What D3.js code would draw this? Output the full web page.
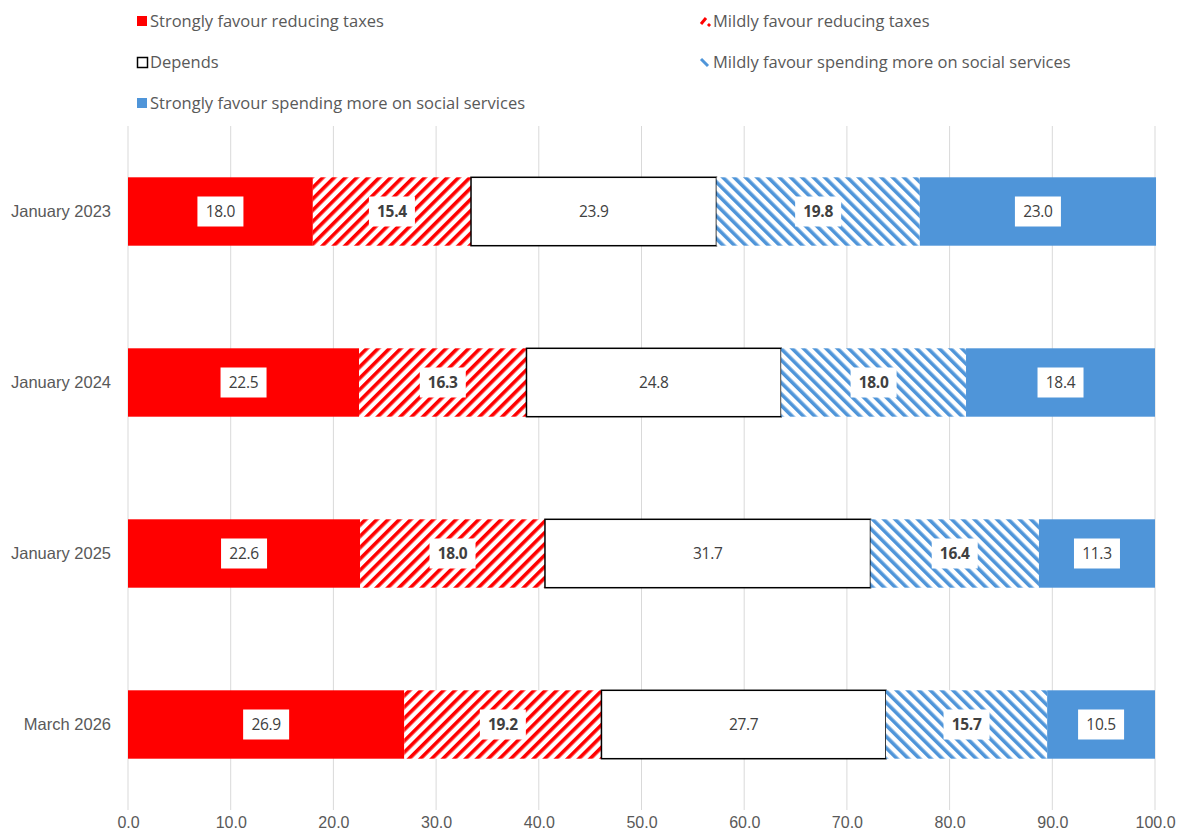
<!DOCTYPE html>
<html>
<head>
<meta charset="utf-8">
<script src="https://cdn.jsdelivr.net/npm/d3@7"></script>
<style>
  html, body { margin: 0; padding: 0; background: #fff; }
  svg { display: block; font-family: "Open Sans", "Noto Sans", sans-serif; }
</style>
</head>
<body>
<svg id="chart" width="1180" height="839"></svg>
<script>
// Survey waves (top to bottom)
const categories = ["January 2023", "January 2024", "January 2025", "March 2026"];

// Series, left to right along the stacked bar
const seriesNames = [
  "Strongly favour reducing taxes",
  "Mildly favour reducing taxes",
  "Depends",
  "Mildly favour spending more on social services",
  "Strongly favour spending more on social services"
];
const stronglyTaxes   = [18.0, 22.5, 22.6, 26.9];
const mildlyTaxes     = [15.4, 16.3, 18.0, 19.2];
const depends         = [23.9, 24.8, 31.7, 27.7];
const mildlySpending  = [19.8, 18.0, 16.4, 15.7];
const stronglySpending= [23.0, 18.4, 11.3, 10.5];

const xTicks = [0, 10, 20, 30, 40, 50, 60, 70, 80, 90, 100];

const seriesValues = [stronglyTaxes, mildlyTaxes, depends, mildlySpending, stronglySpending];
const RED = "#ff0000", BLUE = "#4f95d9";

const svg = d3.select("#chart");
const defs = svg.append("defs");

// Diagonal hatch patterns
function hatch(id, color, dir) {
  const p = defs.append("pattern")
    .attr("id", id).attr("patternUnits", "userSpaceOnUse")
    .attr("width", 8).attr("height", 8)
    .attr("patternTransform", `rotate(${dir})`);
  p.append("rect").attr("width", 8).attr("height", 8).attr("fill", "#fff");
  p.append("rect").attr("x", 0).attr("width", 3.6).attr("height", 8).attr("fill", color);
}
hatch("hatchRed", RED, 45);
hatch("hatchBlue", BLUE, -45);

const styles = [
  { fill: RED, stroke: "none", bold: false, legend: "solid" },
  { fill: "url(#hatchRed)", stroke: "none", bold: true, legend: "hatch" },
  { fill: "#fff", stroke: "#000", bold: false, legend: "box" },
  { fill: "url(#hatchBlue)", stroke: "none", bold: true, legend: "hatch" },
  { fill: BLUE, stroke: "none", bold: false, legend: "solid" }
];

const margin = { left: 128, right: 25, top: 126, bottom: 29 };
const W = 1180, H = 839;

const x = d3.scaleLinear().domain([0, 100]).range([margin.left, W - margin.right]);
const y = d3.scaleBand().domain(categories).range([margin.top, H - margin.bottom]).paddingInner(0.6).paddingOuter(0.3);

// Vertical gridlines
svg.append("g")
  .selectAll("line").data(xTicks).join("line")
  .attr("x1", d => x(d)).attr("x2", d => x(d))
  .attr("y1", 126).attr("y2", 810)
  .attr("stroke", "#d9d9d9").attr("stroke-width", 1);

// x-axis labels
const xAxis = d3.axisBottom(x).tickValues(xTicks).tickFormat(d3.format(".1f")).tickSize(0).tickPadding(0);
const gx = svg.append("g").attr("transform", `translate(0,${H - 22})`).call(xAxis);
gx.select(".domain").remove();
gx.selectAll("text").attr("fill", "#595959").attr("font-size", 16);

// y-axis labels
const yAxis = d3.axisLeft(y).tickSize(0).tickPadding(0);
const gy = svg.append("g").attr("transform", `translate(${margin.left - 17},0)`).call(yAxis);
gy.select(".domain").remove();
gy.selectAll("text").attr("fill", "#595959").attr("font-size", 16.5);

// Stack the series
const rows = categories.map((c, i) => {
  const o = { cat: c };
  seriesNames.forEach((s, j) => o[s] = seriesValues[j][i]);
  return o;
});
const stacked = d3.stack().keys(seriesNames)(rows);

const layers = svg.append("g").selectAll("g").data(stacked).join("g");
layers.each(function (layer, j) {
  const st = styles[j];
  const g = d3.select(this);
  g.selectAll("rect").data(layer).join("rect")
    .attr("x", d => x(d[0]))
    .attr("y", d => y(d.data.cat))
    .attr("width", d => x(d[1]) - x(d[0]))
    .attr("height", y.bandwidth())
    .attr("fill", st.fill)
    .attr("stroke", st.stroke)
    .attr("stroke-width", st.stroke === "none" ? 0 : 1.5);
});

// Data labels in white boxes
const labels = svg.append("g");
stacked.forEach((layer, j) => {
  const st = styles[j];
  layer.forEach(d => {
    const cx = (x(d[0]) + x(d[1])) / 2;
    const cy = y(d.data.cat) + y.bandwidth() / 2;
    const v = d[1] - d[0];
    const g = labels.append("g").attr("transform", `translate(${cx},${cy})`);
    g.append("rect").attr("x", -23).attr("y", -15).attr("width", 46).attr("height", 30).attr("fill", "#fff");
    g.append("text")
      .attr("text-anchor", "middle").attr("dy", "0.35em")
      .attr("font-size", 15.5).attr("font-weight", st.bold ? "bold" : "normal")
      .attr("fill", "#404040").attr("letter-spacing", -0.3)
      .text(d3.format(".1f")(v));
  });
});

// Legend
const legendPos = [
  [137, 21], [700, 21], [137, 62], [700, 62], [137, 103]
];
const legend = svg.append("g");
seriesNames.forEach((name, j) => {
  const [lx, ly] = legendPos[j];
  const st = styles[j];
  const g = legend.append("g").attr("transform", `translate(${lx},${ly})`);
  if (st.legend === "solid") {
    g.append("rect").attr("x", 0).attr("y", -5).attr("width", 10).attr("height", 10).attr("fill", st.fill);
  } else if (st.legend === "box") {
    g.append("rect").attr("x", 0.5).attr("y", -4.5).attr("width", 10).attr("height", 10)
      .attr("fill", "#fff").attr("stroke", "#000").attr("stroke-width", 1.5);
  } else {
    const color = j === 1 ? RED : BLUE;
    if (j === 1) {
      g.append("line").attr("x1", 1).attr("y1", 3).attr("x2", 6).attr("y2", -3)
        .attr("stroke", color).attr("stroke-width", 3);
      g.append("line").attr("x1", 8).attr("y1", 5).attr("x2", 10).attr("y2", 3)
        .attr("stroke", color).attr("stroke-width", 3);
    } else {
      g.append("line").attr("x1", 1).attr("y1", -3).attr("x2", 8).attr("y2", 4)
        .attr("stroke", color).attr("stroke-width", 3);
    }
  }
  g.append("text").attr("x", 13).attr("dy", "0.35em")
    .attr("font-size", 16.5).attr("fill", "#595959").text(name);
});
</script>
</body>
</html>
